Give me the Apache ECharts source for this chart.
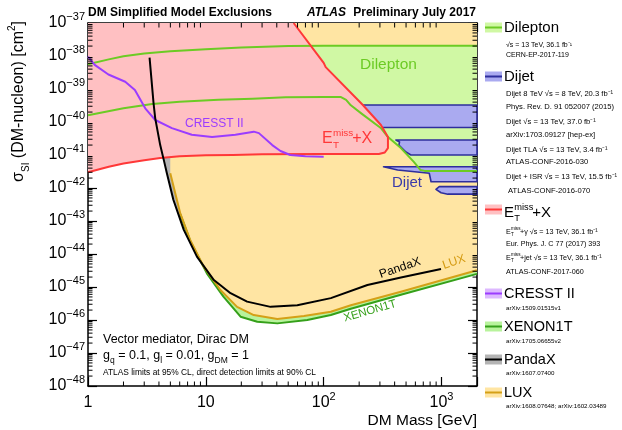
<!DOCTYPE html>
<html><head><meta charset="utf-8">
<script src="https://cdn.jsdelivr.net/npm/echarts@6/dist/echarts.min.js"></script>
<style>html,body{margin:0;padding:0;background:#fff}#c{width:622px;height:430px}</style>
</head><body><div id="c"></div>
<script>
// Spin-independent DM-nucleon cross-section limits, [mass GeV, sigma cm^2]
const dileptonUpper = [[1,5.6e-39],[1.5,7.9e-39],[2,9.8e-39],[3,1.2e-38],[5,1.4e-38],[10,1.6e-38],[20,1.8e-38],[50,2.0e-38],[100,2.05e-38],[2000,2.05e-38]];
const dileptonLower = [[1,1.6e-40],[2,2.6e-40],[3.5,3.5e-40],[6,4.1e-40],[12.8,4.7e-40],[25,5.1e-40],[47.5,5.6e-40],[100,5.75e-40],[139,5.75e-40],[155,4.7e-40],[170,3.2e-40],[207,1.86e-40],[305,6.6e-41],[351,3.5e-41],[452,1.62e-41],[582,6.2e-42],[664,3.5e-42],[720,3.3e-42],[2000,3.3e-42]];
const etmissBoundary = [[1,3.0e-42],[1.5,4.4e-42],[2,5.5e-42],[3,6.9e-42],[4.1,8.1e-42],[6,9.1e-42],[10,9.8e-42],[17,1.0e-41],[30,1.05e-41],[94,1.07e-41],[294,1.07e-41],[330,1.19e-41],[351,1.62e-41],[351,3.5e-41],[306,8.1e-41],[215,3.27e-40],[104,4.6e-39],[100,6.2e-39],[55.6,1e-37]];
const dijetBands = [
  [[213,3.27e-40],[2000,3.27e-40],[2000,6.8e-41],[306,6.8e-41],[277,1.15e-40],[235,1.84e-40],[206.5,2.31e-40]],
  [[410,2.85e-41],[2000,2.85e-41],[2000,1.0e-41],[550,1.0e-41],[499,1.23e-41],[452,1.74e-41],[435,2.0e-41],[440,2.48e-41]],
  [[322,4.4e-42],[2000,4.4e-42],[2000,1.55e-42],[815,1.55e-42],[787,2.8e-42],[424,3.5e-42]],
  [[957,1.1e-42],[2000,1.1e-42],[2000,6.5e-43],[1130,6.5e-43],[991,7.2e-43],[897,9.1e-43]]
];
const cresst = [[1.0,9.5e-39],[1.14,5.4e-39],[1.49,2.75e-39],[2.07,1.66e-39],[2.5,9.3e-40],[3.06,2.6e-40],[3.72,1.15e-40],[5.15,6.5e-41],[7.6,4.1e-41],[11.3,3.5e-41],[17.8,4.1e-41],[25.5,5.1e-41],[28.2,4.6e-41],[36.6,2.0e-41],[43,1.32e-41],[52,1.0e-41],[70,9.1e-42],[100,8.9e-42]];
const pandax = [[3.33,8.9e-39],[3.6,3.7e-40],[3.72,1.29e-40],[4.1,2.0e-41],[4.43,6.3e-42],[4.67,2.8e-42],[5.3,4.4e-43],[6.5,5.4e-44],[8.4,8.3e-45],[11.7,1.62e-45],[16.2,6.5e-46],[22.4,3.6e-46],[35.4,2.5e-46],[59.7,2.8e-46],[115,4.6e-46],[235,1.15e-45],[452,1.95e-45],[990,3.5e-45]];
const lux = [[4.99,2.8e-42],[6.07,1.7e-43],[7.38,2.6e-44],[9.57,4.2e-45],[13.3,8.1e-46],[18.4,2.5e-46],[25.5,1.41e-46],[40.4,1.07e-46],[68,1.32e-46],[115,1.78e-46],[170,2.8e-46],[452,7.2e-46],[2000,3.2e-45]];
const xenon1t = [[6.07,1.6e-43],[7.4,2.4e-44],[10.2,2.6e-45],[14.1,5.1e-46],[19.7,1.26e-46],[27.3,8.9e-47],[40.4,7.9e-47],[72.6,1.0e-46],[115,1.41e-46],[170,2.2e-46],[452,5.8e-46],[2000,2.5e-45]];

const massRange = [1, 2000];
const sigmaRange = [1e-48, 1e-37];
const massDecades = [1, 10, 100, 1000];
const sigmaDecades = [-48,-47,-46,-45,-44,-43,-42,-41,-40,-39,-38,-37];

// both axes are drawn in log10 space
const lg = v => Math.log10(v);
const lgPts = pts => pts.map(p => [lg(p[0]), lg(p[1])]);
const X0 = lg(massRange[0]), X1 = lg(massRange[1]), Y0 = lg(sigmaRange[0]), Y1 = lg(sigmaRange[1]);

const FONT = '"Liberation Sans", Arial, Helvetica, sans-serif';
const C = {
  pink:'#FFC0C2', red:'#FF3838',
  orange:'#FFE5A3', gold:'#D4A017',
  lgreen:'#D0F8A4', green:'#6CCB24',
  xgreen:'#B8F39C', dgreen:'#35A01A',
  blue:'#AAAAF0', navy:'#2E2E9C',
  purple:'#9B3CFF', lpurple:'#DDB8FF',
  grey:'#B4B4B4'
};

// minor tick positions 2..9 within each decade
const xMinor = [], yMinor = [];
massDecades.forEach(d => { for (let k = 2; k <= 9; k++) if (k * d < massRange[1]) xMinor.push(lg(k * d)); });
sigmaDecades.slice(0, -1).forEach(e => { for (let k = 2; k <= 9; k++) yMinor.push(e + lg(k)); });

function aboveCurve(curve) {
  return curve.concat([[curve[curve.length - 1][0], sigmaRange[1]], [curve[0][0], sigmaRange[1]]]);
}
function regionSeries(polys, fill, stroke, z) {
  return {
    type: 'custom', z, silent: true, data: [[1, -40]],
    renderItem: (params, api) => ({
      type: 'group',
      children: polys.map(pts => ({
        type: 'polygon',
        shape: { points: lgPts(pts).map(p => api.coord(p)) },
        style: { fill, stroke: stroke || null, lineWidth: stroke ? 1.6 : 0, lineJoin: 'round' }
      }))
    })
  };
}
function lineSeries(data, color, z, width) {
  return { type: 'line', data: lgPts(data), z, showSymbol: false, silent: true, animation: false,
    lineStyle: { color, width: width || 2, join: 'round' } };
}

const supRich = {
  b: { fontSize: 16, lineHeight: 24, fontFamily: FONT, color: '#000' },
  s: { fontSize: 11, verticalAlign: 'top', fontFamily: FONT, color: '#000' }
};
function decadeLabel(l, isX) {
  const e = Math.round(l);
  if (Math.abs(l - e) > 1e-6) return '';
  if (isX && e === 0) return '{b|1}';
  if (isX && e === 1) return '{b|10}';
  return '{b|10}{s|' + (e < 0 ? '\u2212' : '') + Math.abs(e) + '}';
}
const axisCommon = {
  type: 'value', interval: 1, scale: true,
  axisLine: { show: true, onZero: false, lineStyle: { color: '#000', width: 1.5 } },
  axisTick: { show: true, inside: true, length: 9, lineStyle: { color: '#000', width: 1.2 } },
  splitLine: { show: false }
};

function txt(x, y, text, size, o) {
  o = o || {};
  return { type: 'text', x, y, rotation: o.rot || 0, silent: true, z: 100,
    style: { text, font: (o.italic ? 'italic ' : '') + (o.bold ? 'bold ' : '') + size + 'px ' + FONT,
      fill: o.color || '#000', align: o.align || 'left', verticalAlign: o.va || 'middle',
      textAlign: o.align || 'left', textVerticalAlign: o.va || 'middle', rich: o.rich } };
}
function swatch(y, fill, line) {
  return [
    { type: 'rect', shape: { x: 485, y: y - 5, width: 17, height: 10 }, style: { fill }, silent: true, z: 100 },
    { type: 'line', shape: { x1: 485, y1: y, x2: 502, y2: y }, style: { stroke: line, lineWidth: 2 }, silent: true, z: 101 }
  ];
}
// E_T^miss with stacked super/subscript
function etmiss(x, y, size, color, tail) {
  const s = size * 0.62;
  return [
    txt(x, y, 'E', size, { color }),
    txt(x + size * 0.68, y - size * 0.38, 'miss', s, { color }),
    txt(x + size * 0.68, y + size * 0.36, 'T', s, { color }),
    txt(x + size * 0.68 + s * 1.95, y, tail, size, { color })
  ];
}
function etmissSmall(x, y, tail) {
  return [
    txt(x, y, 'E', 7.2),
    txt(x + 5, y - 3, 'miss', 4.6),
    txt(x + 5, y + 3, 'T', 4.6),
    txt(x + 14, y, tail, 7.2)
  ];
}

const graphics = [].concat(
  [txt(88, 13, 'DM Simplified Model Exclusions', 12, { bold: true }),
   txt(346, 13, 'ATLAS', 12, { bold: true, italic: true, align: 'right' }),
   txt(476, 13, 'Preliminary July 2017', 12, { bold: true, align: 'right' }),
   txt(19, 21, '{b|\u03c3}{sub|SI}{b| (DM-nucleon) [cm}{sup|2}{b|]}', 16, { align: 'right', rot: Math.PI / 2,
     rich: { b: { fontSize: 16, lineHeight: 24, fontFamily: FONT }, sub: { fontSize: 10, verticalAlign: 'bottom', fontFamily: FONT }, sup: { fontSize: 10, verticalAlign: 'top', fontFamily: FONT } } }),
   txt(477, 421, 'DM Mass [GeV]', 15.5, { align: 'right' }),
   txt(103, 340, 'Vector mediator, Dirac DM', 12.5),
   txt(103, 356, '{b|g}{sub|q}{b| = 0.1, g}{sub|l}{b| = 0.01, g}{sub|DM}{b| = 1}', 12.5, {
     rich: { b: { fontSize: 12.5, lineHeight: 18, fontFamily: FONT }, sub: { fontSize: 8.5, verticalAlign: 'bottom', fontFamily: FONT } } }),
   txt(103, 372.5, 'ATLAS limits at 95% CL, direct detection limits at 90% CL', 8.4),
   txt(185, 124, 'CRESST II', 12, { color: C.purple }),
   txt(360, 65, 'Dilepton', 15.5, { color: C.green }),
   txt(392, 183, 'Dijet', 15, { color: '#3A3AAA' }),
   txt(400, 268, 'PandaX', 12, { align: 'center', rot: 0.33 }),
   txt(454, 262, 'LUX', 12, { align: 'center', rot: 0.33, color: '#D49A10' }),
   txt(370, 311, 'XENON1T', 11.5, { align: 'center', rot: 0.28, color: C.dgreen })],
  etmiss(322, 139, 16, C.red, '+X'),
  // legend
  swatch(27.5, C.lgreen, C.green), [txt(504, 28, 'Dilepton', 15),
   txt(506, 45, '\u221as = 13 TeV, 36.1 fb\u207b\u00b9', 7),
   txt(506, 55, 'CERN-EP-2017-119', 7)],
  swatch(76.5, C.blue, C.navy), [txt(504, 77, 'Dijet', 15),
   txt(506, 94, 'Dijet 8 TeV \u221as = 8 TeV, 20.3 fb\u207b\u00b9', 7.6),
   txt(506, 107, 'Phys. Rev. D. 91 052007 (2015)', 7.6),
   txt(506, 122, 'Dijet \u221as = 13 TeV, 37.0 fb\u207b\u00b9', 7.6),
   txt(506, 135, 'arXiv:1703.09127 [hep-ex]', 7.6),
   txt(506, 150, 'Dijet TLA \u221as = 13 TeV, 3.4 fb\u207b\u00b9', 7.6),
   txt(506, 162, 'ATLAS-CONF-2016-030', 7.6),
   txt(506, 177, 'Dijet + ISR \u221as = 13 TeV, 15.5 fb\u207b\u00b9', 7.6),
   txt(508, 191, 'ATLAS-CONF-2016-070', 7.6)],
  swatch(209.5, C.pink, C.red), etmiss(504, 213, 15, '#000', '+X'),
  etmissSmall(506, 232, '+\u03b3 \u221as = 13 TeV, 36.1 fb\u207b\u00b9'),
  [txt(506, 244, 'Eur. Phys. J. C 77 (2017) 393', 7.2)],
  etmissSmall(506, 258, '+jet \u221as = 13 TeV, 36.1 fb\u207b\u00b9'),
  [txt(506, 272, 'ATLAS-CONF-2017-060', 7.2)],
  swatch(293.5, C.lpurple, C.purple), [txt(504, 294, 'CRESST II', 14.5), txt(506, 308, 'arXiv:1509.01515v1', 6.2)],
  swatch(326.5, C.xgreen, C.dgreen), [txt(504, 327, 'XENON1T', 14.5), txt(506, 341, 'arXiv:1705.06655v2', 6.2)],
  swatch(359.5, C.grey, '#000'), [txt(504, 360, 'PandaX', 14.5), txt(506, 373, 'arXiv:1607.07400', 6.2)],
  swatch(392.5, C.orange, C.gold), [txt(504, 393, 'LUX', 14.5), txt(506, 406, 'arXiv:1608.07648; arXiv:1602.03489', 6.2)]
);

const chart = echarts.init(document.getElementById('c'), null, { renderer: 'canvas' });
chart.setOption({
  animation: false,
  backgroundColor: '#fff',
  grid: { left: 88, right: 145, top: 23, bottom: 44, containLabel: false },
  xAxis: [
    Object.assign({}, axisCommon, { min: X0, max: X1, position: 'bottom',
      axisLabel: { margin: 5, formatter: v => decadeLabel(v, true), rich: supRich } }),
    Object.assign({}, axisCommon, { min: X0, max: X1, position: 'top', axisLabel: { show: false } })
  ],
  yAxis: [
    Object.assign({}, axisCommon, { min: Y0, max: Y1, position: 'left',
      axisLabel: { margin: 3, formatter: v => decadeLabel(v, false), rich: supRich } }),
    Object.assign({}, axisCommon, { min: Y0, max: Y1, position: 'right', axisLabel: { show: false } })
  ],
  series: [
    regionSeries([aboveCurve(xenon1t)], C.xgreen, null, 1),
    regionSeries([aboveCurve(pandax)], C.grey, null, 2),
    regionSeries([aboveCurve(lux)], C.orange, null, 3),
    regionSeries([dileptonUpper.concat(dileptonLower.slice().reverse())], C.lgreen, null, 4),
    regionSeries(dijetBands, C.blue, C.navy, 5),
    regionSeries([etmissBoundary.concat([[massRange[0], sigmaRange[1]]])], C.pink, null, 6),
    lineSeries(dileptonUpper, C.green, 10),
    lineSeries(dileptonLower, C.green, 10),
    lineSeries(etmissBoundary, C.red, 11),
    lineSeries(cresst, C.purple, 12),
    lineSeries(xenon1t, C.dgreen, 13),
    lineSeries(lux, C.gold, 14),
    lineSeries(pandax, '#000', 15),
    {
      type: 'custom', z: 20, silent: true, data: [[1, -40]],
      renderItem: (params, api) => {
        const cs = params.coordSys, kids = [];
        const st = { stroke: '#000', lineWidth: 1 };
        xMinor.forEach(v => {
          const x = api.coord([v, Y0])[0];
          kids.push({ type: 'line', shape: { x1: x, y1: cs.y + cs.height, x2: x, y2: cs.y + cs.height - 4.5 }, style: st });
          kids.push({ type: 'line', shape: { x1: x, y1: cs.y, x2: x, y2: cs.y + 4.5 }, style: st });
        });
        yMinor.forEach(v => {
          const y = api.coord([X0, v])[1];
          kids.push({ type: 'line', shape: { x1: cs.x, y1: y, x2: cs.x + 4.5, y2: y }, style: st });
          kids.push({ type: 'line', shape: { x1: cs.x + cs.width, y1: y, x2: cs.x + cs.width - 4.5, y2: y }, style: st });
        });
        return { type: 'group', children: kids };
      }
    }
  ],
  graphic: graphics
});
</script></body></html>
